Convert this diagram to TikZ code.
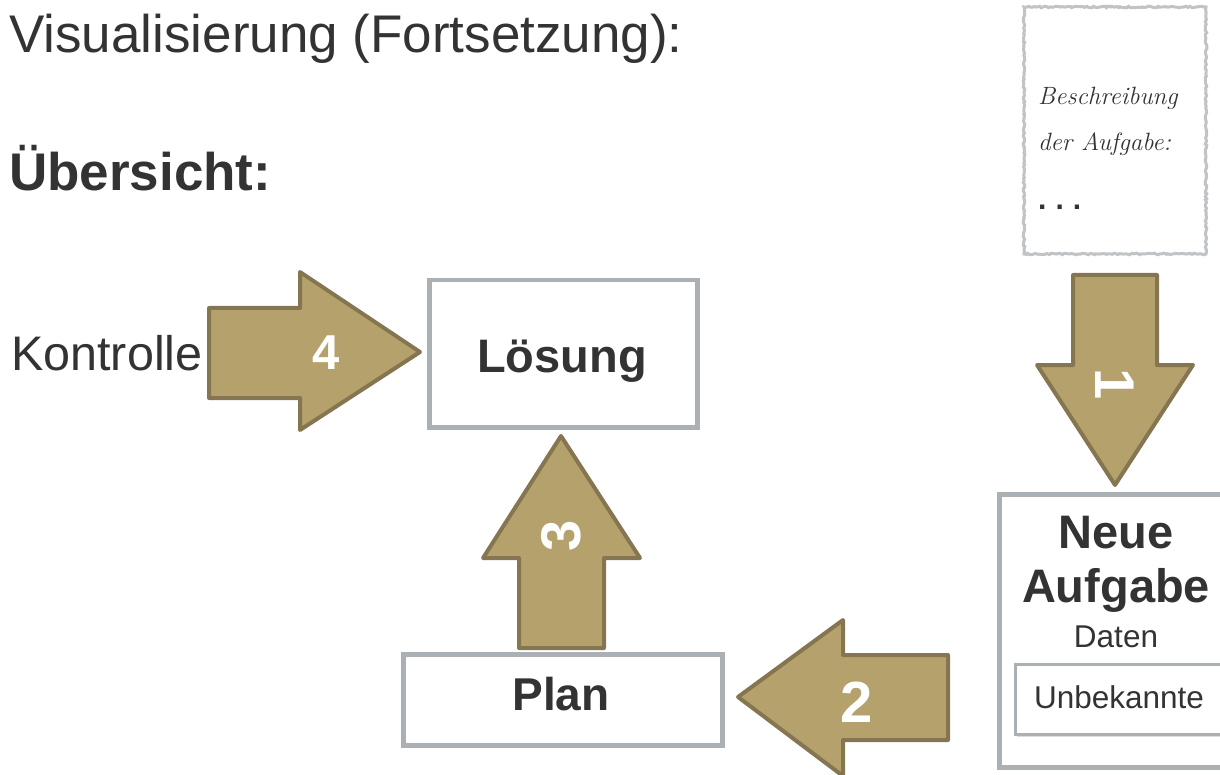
\documentclass[tikz,border=0pt]{standalone}
\usepackage{fontspec}
\setmainfont{Liberation Sans}
\newfontfamily\scriptfam{Latin Modern Roman}
\usetikzlibrary{decorations.pathmorphing}
\definecolor{ink}{HTML}{333333}
\definecolor{arrowfill}{HTML}{B5A16B}
\definecolor{arrowline}{HTML}{857550}
\definecolor{boxline}{HTML}{ABB0B4}
\definecolor{shadowc}{HTML}{DADDDF}
\tikzset{
  fs/.style={font=\fontsize{#1}{#1}\selectfont},
  fsb/.style={font=\fontsize{#1}{#1}\selectfont\bfseries},
  bigarrow/.style={fill=arrowfill, draw=arrowline, line width=4pt, line join=round},
  numlabel/.style={text=white, font=\fontsize{#1}{#1}\selectfont\bfseries, inner sep=0pt},
  stepbox/.style={draw=boxline, line width=4.5pt, fill=white},
  boxshadow/.style={fill=shadowc},
  desctext/.style={anchor=base west, text=ink, font=\scriptfam\itshape\fontsize{25}{25}\selectfont, inner sep=0pt},
}
\begin{document}
\begin{tikzpicture}[x=1pt,y=-1pt]
\useasboundingbox (0,0) rectangle (1220,775);

% headings
\node[anchor=west, text=ink, fs=53, inner sep=0pt] (title) at (9,39) {Visualisierung (Fortsetzung):};
\node[anchor=west, text=ink, fsb=53, inner sep=0pt] (overview) at (9,168) {Übersicht:};

% task description sheet with a rough edge
\draw[draw=boxline!75, line width=3pt, fill=white,
      decorate, decoration={random steps, segment length=2pt, amplitude=0.8pt}]
  (1024,7) rectangle (1206,254);
\node[desctext] (desc1) at (1038,105) {Beschreibung};
\node[desctext] (desc2) at (1038,151) {der Aufgabe:};
\node[anchor=base west, text=ink, font=\fontsize{30}{30}\selectfont\bfseries, inner sep=0pt] (desc3) at (1038,210) {.\hspace{9pt}.\hspace{9pt}.};

% boxes (with a soft shadow)
\fill[boxshadow] (431,282) rectangle (699,429);
\node[stepbox, minimum width=268pt, minimum height=147pt, anchor=north west] (loesung) at (427,278) {};
\node[text=ink, fsb=47, inner sep=0pt, anchor=base] (loesungtext) at (562,372) {Lösung};

\fill[boxshadow] (405,656) rectangle (724,747);
\node[stepbox, minimum width=319pt, minimum height=91pt, anchor=north west] (plan) at (401,652) {};
\node[text=ink, fsb=46, inner sep=0pt, anchor=base] (plantext) at (561,710) {Plan};

\fill[boxshadow] (1001,496) rectangle (1240,769);
\node[stepbox, minimum width=240pt, minimum height=273pt, anchor=north west] (aufgabe) at (997,492) {};
\node[text=ink, fsb=47, inner sep=0pt] (neue) at (1116,533) {Neue};
\node[text=ink, fsb=47, inner sep=0pt] (aufg) at (1116,590) {Aufgabe};
\node[text=ink, fs=31.5, inner sep=0pt] (daten) at (1116,637) {Daten};
\fill[boxshadow] (1017,666) rectangle (1240,737);
\node[draw=boxline, line width=3pt, fill=white, minimum width=226pt, minimum height=70pt, anchor=north west] (unbek) at (1014,663) {};
\node[text=ink, fs=31.5, inner sep=0pt] (unbektext) at (1119,697) {Unbekannte};

% side label
\node[anchor=west, text=ink, fs=48.5, inner sep=0pt] (kontrolle) at (11,353) {Kontrolle};

% step arrows
% 1: description -> new task
\draw[bigarrow] (1073,275) -- (1157,275) -- (1157,365) -- (1193,365) -- (1115,485)
  -- (1037,365) -- (1073,365) -- cycle;
\node[numlabel=56, rotate=-90] (n1) at (1115,384) {1};

% 2: new task -> plan
\draw[bigarrow] (948,655) -- (948,740) -- (843,740) -- (843,776) -- (738,697)
  -- (843,620) -- (843,655) -- cycle;
\node[numlabel=58] (n2) at (857,702) {2};

% 3: plan -> solution
\draw[bigarrow] (519,648) -- (519,558) -- (483,558) -- (561,436) -- (640,558)
  -- (604,558) -- (604,648) -- cycle;
\node[numlabel=56, rotate=90] (n3) at (561,536) {3};

% 4: check -> solution
\draw[bigarrow] (209,308) -- (300,308) -- (300,272) -- (420,352) -- (300,430)
  -- (300,398) -- (209,398) -- cycle;
\node[numlabel=49] (n4) at (326,353) {4};
\end{tikzpicture}
\end{document}
